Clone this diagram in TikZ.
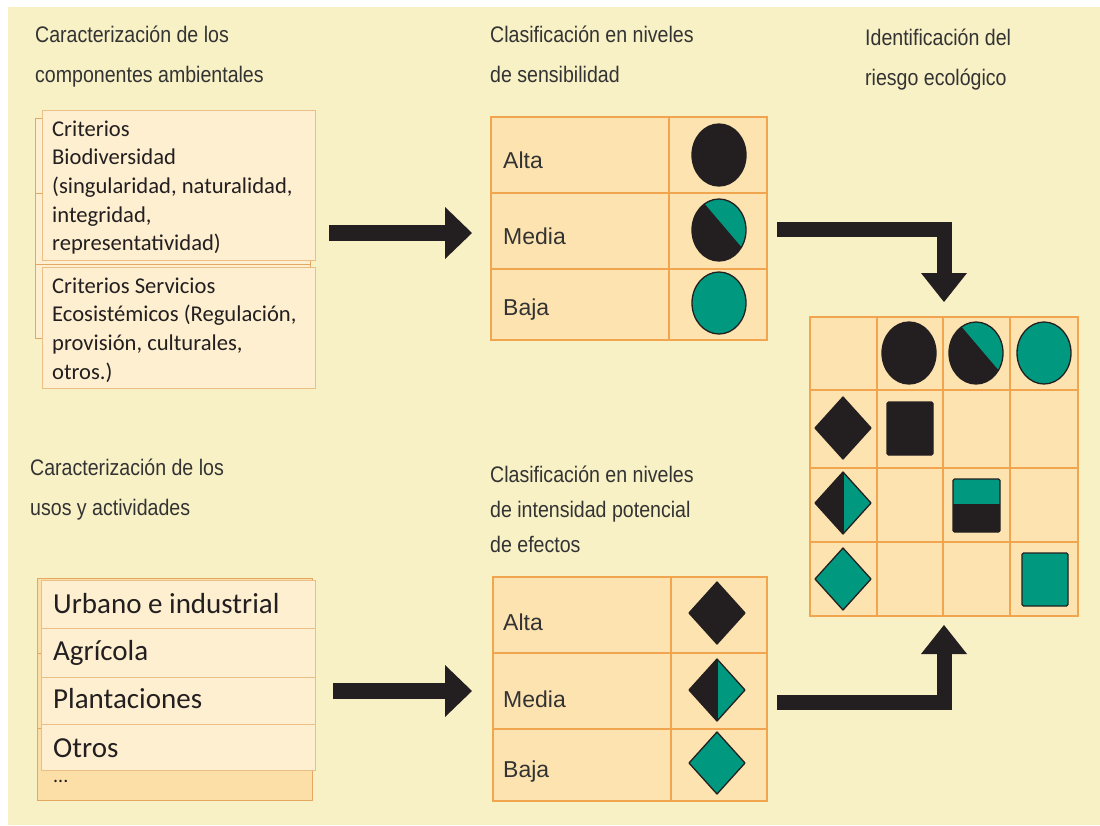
\documentclass[tikz,border=0pt]{standalone}
\usepackage{fontspec}
\setmainfont{Liberation Sans}
\newfontfamily\calib{Carlito}
\newfontfamily\headf[FakeStretch=0.87]{Liberation Sans}
\usetikzlibrary{arrows.meta,shapes.geometric}
\definecolor{bg}{HTML}{F8F1C6}
\definecolor{boxfill}{HTML}{FDEFCF}
\definecolor{boxline}{HTML}{E9BF85}
\definecolor{backfill}{HTML}{FCDFA6}
\definecolor{backline}{HTML}{E6A860}
\definecolor{cellfill}{HTML}{FDE3AF}
\definecolor{cellline}{HTML}{F0A54E}
\definecolor{tealc}{HTML}{00997F}
\definecolor{ink}{HTML}{231F20}
\definecolor{txt}{HTML}{333333}
\begin{document}
\begin{tikzpicture}[x=1pt,y=-1pt,
  head/.style={anchor=base west, inner sep=0pt, text=txt, font=\headf\fontsize{22.5pt}{40pt}\selectfont},
  boxtext/.style={anchor=base west, inner sep=0pt, text=ink, font=\calib\fontsize{22.6pt}{28.7pt}\selectfont},
  usetext/.style={anchor=base west, inner sep=0pt, text=ink, font=\calib\fontsize{29pt}{34pt}\selectfont},
  lbl/.style={anchor=base west, inner sep=0pt, text=txt, font=\fontsize{23pt}{27pt}\selectfont},
  backbox/.style={draw=backline, fill=backfill, line width=1pt},
  frontbox/.style={draw=boxline, fill=boxfill, line width=1pt},
  cell/.style={draw=cellline, fill=cellfill, line width=1.6pt},
  grid/.style={draw=cellline, line width=1.6pt},
  sym/.style={draw=ink, line width=1.3pt, line join=round},
  bigarrow/.style={draw=ink, line width=16pt, line join=miter,
    -{Triangle[length=27pt,width=52pt,line width=0pt]}},
  bentarrow/.style={draw=ink, line width=15pt, line join=miter,
    -{Triangle[length=29pt,width=46pt,line width=0pt]}},
  circblack/.pic={\draw[sym, fill=ink] (0,0) ellipse [x radius=27pt, y radius=31pt];},
  circteal/.pic={\draw[sym, fill=tealc] (0,0) ellipse [x radius=27pt, y radius=31pt];},
  circhalf/.pic={
    \begin{scope}
      \clip (0,0) ellipse [x radius=27pt, y radius=31pt];
      \fill[ink] (-30,-35) rectangle (30,35);
      \fill[tealc] (-26,-40) -- (42,40) -- (60,40) -- (60,-40) -- cycle;
    \end{scope}
    \draw[sym] (0,0) ellipse [x radius=27pt, y radius=31pt];},
  diablack/.pic={\draw[sym, fill=ink] (0,-31) -- (28,0) -- (0,31) -- (-28,0) -- cycle;},
  diateal/.pic={\draw[sym, fill=tealc] (0,-31) -- (28,0) -- (0,31) -- (-28,0) -- cycle;},
  diahalf/.pic={
    \fill[ink] (0,-31) -- (-28,0) -- (0,31) -- cycle;
    \fill[tealc] (0,-31) -- (28,0) -- (0,31) -- cycle;
    \draw[sym] (0,-31) -- (28,0) -- (0,31) -- (-28,0) -- cycle;
    \draw[sym] (0,-31) -- (0,31);}
]
\useasboundingbox (0,0) rectangle (1100,825);
\fill[white] (0,0) rectangle (1100,825);
\fill[bg] (8,7) rectangle (1100,825);

% headings
\node[head] (h1) at (35,42.5) {\parbox[t]{300pt}{\raggedright Caracterización de los\\componentes ambientales}};
\node[head] (h2) at (490,42.5) {\parbox[t]{300pt}{\raggedright Clasificación en niveles\\de sensibilidad}};
\node[head] (h3) at (865,45.5) {\parbox[t]{230pt}{\raggedright Identificación del\\riesgo ecológico}};
\node[head] (h4) at (30,475.5) {\parbox[t]{300pt}{\raggedright Caracterización de los\\usos y actividades}};
\node[head, font=\headf\fontsize{22.5pt}{35pt}\selectfont] (h5) at (490,482.5) {\parbox[t]{300pt}{\raggedright Clasificación en niveles\\de intensidad potencial\\de efectos}};

% criteria boxes
\draw[backbox, fill=boxfill] (35,118) rectangle (310,338);
\draw[backline, line width=1pt] (35,193) -- (310,193) (35,264) -- (310,264);
\draw[frontbox] (42,110) rectangle (315,260);
\draw[frontbox] (42,267) rectangle (315,388);
\node[boxtext] (cA) at (52,136) {\parbox[t]{260pt}{\raggedright Criterios\\Biodiversidad\\(singularidad, naturalidad,\\integridad,\\representatividad)}};
\node[boxtext] (cB) at (52,293) {\parbox[t]{260pt}{\raggedright Criterios Servicios\\Ecosistémicos (Regulación,\\provisión, culturales,\\otros.)}};

% uses boxes
\draw[backbox] (37,578) rectangle (312,800);
\draw[backline, line width=1pt] (37,653) -- (312,653) (37,728) -- (312,728);
\draw[frontbox] (41,580) rectangle (315,770);
\draw[boxline, line width=1pt] (41,628) -- (315,628) (41,677) -- (315,677) (41,724) -- (315,724);
\node[usetext] (u1) at (53,613) {Urbano e industrial};
\node[usetext] (u2) at (53,660) {Agrícola};
\node[usetext] (u3) at (53,708) {Plantaciones};
\node[usetext] (u4) at (53,757) {Otros};
\node[anchor=base west, inner sep=0pt, text=ink, font=\calib\fontsize{20pt}{24pt}\selectfont] (u5) at (53,782) {...};

% sensitivity table
\draw[cell] (491,117) rectangle (767,340);
\draw[grid] (669,117) -- (669,340) (491,193) -- (767,193) (491,269) -- (767,269);
\node[lbl] (s1) at (503,168) {Alta};
\node[lbl] (s2) at (503,244) {Media};
\node[lbl] (s3) at (503,315) {Baja};
\pic at (719,155) {circblack};
\pic at (719,230) {circhalf};
\pic at (719,303) {circteal};

% intensity table
\draw[cell] (493,577) rectangle (767,801);
\draw[grid] (671,577) -- (671,801) (493,653) -- (767,653) (493,729) -- (767,729);
\node[lbl] (i1) at (503,630) {Alta};
\node[lbl] (i2) at (503,707) {Media};
\node[lbl] (i3) at (503,777) {Baja};
\pic at (717,613) {diablack};
\pic at (717,690) {diahalf};
\pic at (717,763) {diateal};

% risk matrix
\draw[cell] (810,317) rectangle (1078,616);
\draw[grid] (877,317) -- (877,616) (943,317) -- (943,616) (1010,317) -- (1010,616)
  (810,390) -- (1078,390) (810,468) -- (1078,468) (810,542) -- (1078,542);
\pic at (909,353) {circblack};
\pic at (976,353) {circhalf};
\pic at (1044,353) {circteal};
\pic at (843,428) {diablack};
\pic at (843,503) {diahalf};
\pic at (843,579) {diateal};
\draw[sym, fill=ink, rounded corners=1.5pt] (887,402) rectangle (933,455);
\fill[tealc, rounded corners=1.5pt] (953,479) rectangle (1000,532);
\fill[ink] (953,504) rectangle (1000,532);
\draw[sym, rounded corners=1.5pt] (953,479) rectangle (1000,532);
\draw[sym, fill=tealc, rounded corners=1.5pt] (1022,553) rectangle (1068,606);

% arrows
\coordinate (a1s) at (329,233);
\coordinate (a1e) at (472,233);
\coordinate (a2s) at (333,691);
\coordinate (a2e) at (472,691);
\coordinate (a3s) at (777,229);
\coordinate (a3e) at (944,302);
\coordinate (a4s) at (777,702);
\coordinate (a4e) at (944,625);
\draw[bigarrow] (a1s) -- (a1e);
\draw[bigarrow] (a2s) -- (a2e);
\draw[bentarrow] (a3s) -| (a3e);
\draw[bentarrow] (a4s) -| (a4e);
\end{tikzpicture}
\end{document}
